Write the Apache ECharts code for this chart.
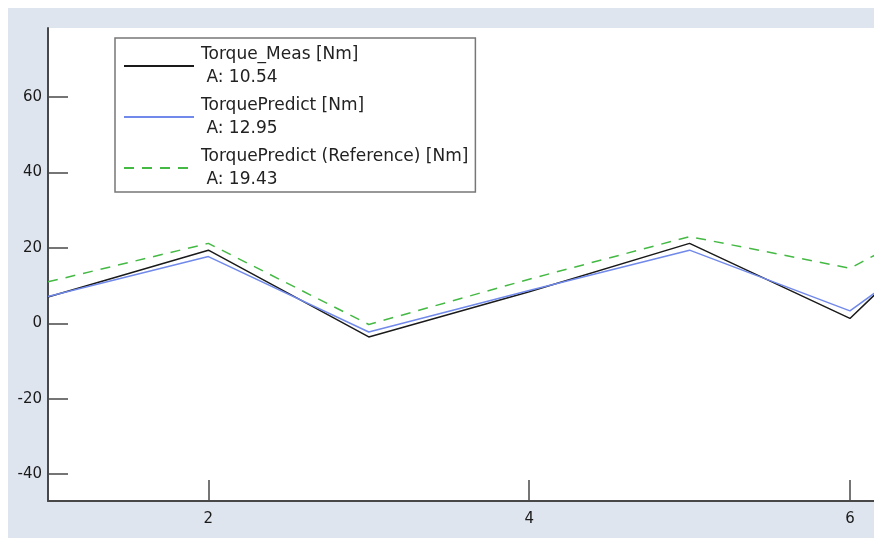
<!DOCTYPE html>
<html>
<head>
<meta charset="utf-8">
<script src="https://cdn.jsdelivr.net/npm/echarts@6/dist/echarts.min.js"></script>
<style>
  html, body { margin: 0; padding: 0; background: #ffffff; overflow: hidden; }
  #chart { position: absolute; left: 8px; top: 8px; width: 866px; height: 530px; background: #dfe5ef; }
</style>
</head>
<body>
<div id="chart"></div>
<script>
const xValues = [1, 2, 3, 4, 5, 6, 7];
const torqueMeas = [7.0, 19.4, -3.6, 8.4, 21.2, 1.3, 42];
const torquePredict = [7.1, 17.7, -2.3, 8.7, 19.4, 3.3, 34];
const torqueReference = [11.0, 21.2, -0.3, 11.7, 23.0, 14.6, 37];
const seriesNames = ['Torque_Meas [Nm]', 'TorquePredict [Nm]', 'TorquePredict (Reference) [Nm]'];
const legendValues = ['10.54', '12.95', '19.43'];
const xTicks = [2, 4, 6];
const yTicks = [-40, -20, 0, 20, 40, 60];

const FONT = 'DejaVu Sans';
const chart = echarts.init(document.getElementById('chart'), null, { renderer: 'canvas' });

function pts(vals) { return xValues.map((x, i) => [x, vals[i]]); }

chart.setOption({
  animation: false,
  grid: {
    left: 40, top: 20, right: 0, bottom: 37,
    outerBoundsMode: 'none', containLabel: false,
    show: true, backgroundColor: '#ffffff', borderWidth: 0
  },
  legend: {
    orient: 'vertical',
    left: 107, top: 30,
    borderColor: '#777777', borderWidth: 1.5, borderRadius: 0,
    backgroundColor: '#ffffff',
    padding: [5, 7, 1, 8],
    itemGap: 5, itemWidth: 70, itemHeight: 1,
    selectedMode: false,
    data: seriesNames,
    itemStyle: { color: 'rgba(0,0,0,0)', borderWidth: 0, opacity: 0 },
    textStyle: { fontFamily: FONT, fontSize: 17, color: '#222222', lineHeight: 23, padding: [0, 0, 0, 2] },
    formatter: function (name) {
      const i = seriesNames.indexOf(name);
      return name + '\n A: ' + legendValues[i];
    }
  },
  xAxis: {
    type: 'value', min: 1, max: 6.15,
    axisLine: { show: true, onZero: false, lineStyle: { color: '#484848', width: 2 } },
    axisTick: { show: true, inside: true, length: 21, customValues: xTicks, lineStyle: { color: '#484848', width: 1.5 } },
    axisLabel: { show: true, customValues: xTicks, margin: 11, fontFamily: FONT, fontSize: 15, color: '#1a1a1a' },
    splitLine: { show: false }
  },
  yAxis: {
    type: 'value', min: -47.1, max: 78.3,
    axisLine: { show: true, onZero: false, lineStyle: { color: '#484848', width: 2 } },
    axisTick: { show: true, inside: true, length: 20, customValues: yTicks, lineStyle: { color: '#484848', width: 1.5 } },
    axisLabel: { show: true, customValues: yTicks, margin: 6, fontFamily: FONT, fontSize: 15, color: '#1a1a1a' },
    splitLine: { show: false }
  },
  series: [
    { name: seriesNames[0], type: 'line', data: pts(torqueMeas), symbol: 'none', clip: true,
      lineStyle: { color: '#1a1a1a', width: 1.5 }, itemStyle: { color: '#1a1a1a' } },
    { name: seriesNames[1], type: 'line', data: pts(torquePredict), symbol: 'none', clip: true,
      lineStyle: { color: '#7089ea', width: 1.5 }, itemStyle: { color: '#7089ea' } },
    { name: seriesNames[2], type: 'line', data: pts(torqueReference), symbol: 'none', clip: true,
      lineStyle: { color: '#44b944', width: 1.5, type: [10, 8] }, itemStyle: { color: '#44b944' } }
  ]
});
</script>
</body>
</html>
